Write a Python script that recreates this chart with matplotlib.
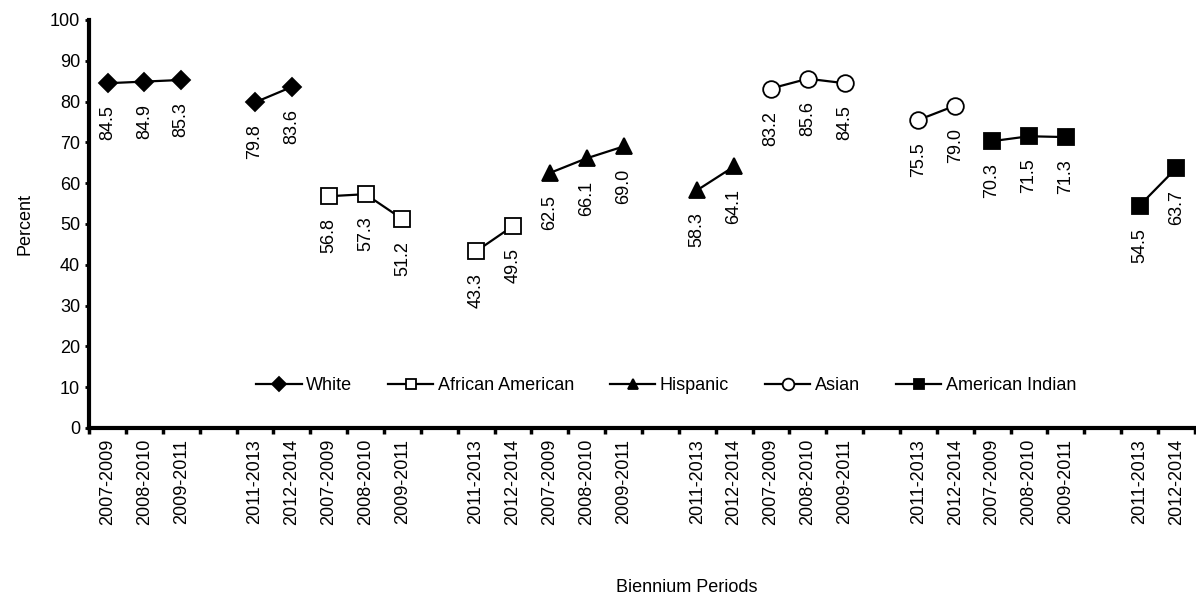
import numpy as np
import matplotlib.pyplot as plt

plt.rcParams['font.family'] = ['Liberation Sans', 'DejaVu Sans']

periods = ['2007-2009', '2008-2010', '2009-2011', '', '2011-2013', '2012-2014']
groups = ['White', 'African American', 'Hispanic', 'Asian', 'American Indian']

white = [84.5, 84.9, 85.3, np.nan, 79.8, 83.6]
african_american = [56.8, 57.3, 51.2, np.nan, 43.3, 49.5]
hispanic = [62.5, 66.1, 69.0, np.nan, 58.3, 64.1]
asian = [83.2, 85.6, 84.5, np.nan, 75.5, 79.0]
american_indian = [70.3, 71.5, 71.3, np.nan, 54.5, 63.7]

series = [white, african_american, hispanic, asian, american_indian]
markers = ['D', 's', '^', 'o', 's']
faces = ['black', 'white', 'black', 'white', 'black']
sizes = [9.5, 11, 11, 12, 11]

fig = plt.figure(figsize=(11.96, 6), dpi=100)
ax = fig.add_axes([0.0745, 0.2867, 0.9245, 0.68])

n = len(periods)
for i, (name, vals) in enumerate(zip(groups, series)):
    x = np.arange(n) + i * n
    ax.plot(x, vals, color='black', linewidth=1.6, marker=markers[i],
            markersize=sizes[i], markerfacecolor=faces[i],
            markeredgecolor='black', markeredgewidth=1.3, label=name)
    for xi, v in zip(x, vals):
        if not np.isnan(v):
            ax.annotate(f'{v:.1f}', (xi, v), xytext=(0, -16),
                        textcoords='offset points', rotation=90,
                        ha='center', va='top', fontsize=13)

ax.set_xlim(-0.5, n * len(groups) - 0.5)
ax.set_ylim(0, 100)
ax.set_yticks(range(0, 101, 10))
ax.tick_params(axis='y', labelsize=13, length=3, width=2, direction='out')

ax.set_xticks(np.arange(n * len(groups)))
ax.set_xticklabels(periods * len(groups), rotation=90, fontsize=13)
ax.set_xticks(np.arange(-0.5, n * len(groups)), minor=True)
ax.tick_params(axis='x', which='major', length=0, pad=8)
ax.tick_params(axis='x', which='minor', length=4, width=2.5, direction='out')

for s in ['top', 'right']:
    ax.spines[s].set_visible(False)
for s in ['left', 'bottom']:
    ax.spines[s].set_linewidth(3)

ax.set_ylabel('Percent', fontsize=13, labelpad=12)
fig.text(0.574, 0.02, 'Biennium Periods', ha='center', va='center', fontsize=13)

ax.legend(loc='center', bbox_to_anchor=(0.522, 0.103), ncol=5, frameon=False,
          fontsize=13, markerscale=0.7, handlelength=2.5, columnspacing=2.0,
          handletextpad=0.25)

fig.savefig('out.png', dpi=100)
